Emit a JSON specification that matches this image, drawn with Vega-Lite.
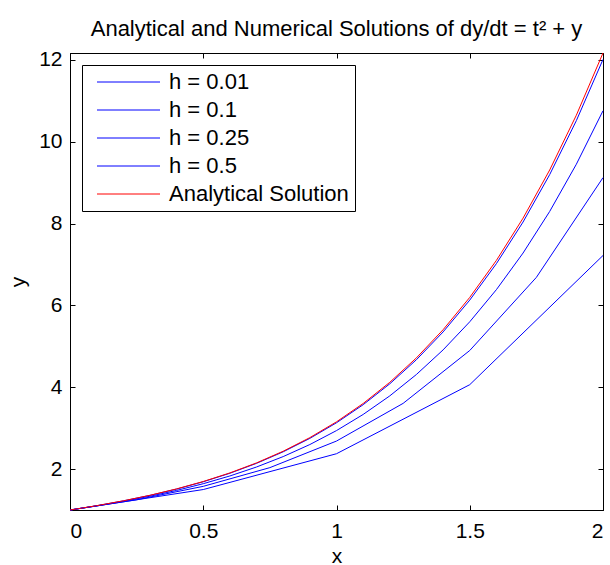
{
  "$schema": "https://vega.github.io/schema/vega-lite/v6.json",
  "width": 533,
  "height": 457,
  "autosize": {"type": "none"},
  "padding": {"left": 70, "top": 53, "right": 7, "bottom": 55},
  "background": "white",
  "title": {
    "text": "Analytical and Numerical Solutions of dy/dt = t² + y",
    "font": "Liberation Sans",
    "fontSize": 22,
    "fontWeight": "normal",
    "color": "black",
    "baseline": "alphabetic",
    "offset": -9
  },
  "data": {
    "values": [
      {"s": "h = 0.01", "t": 0, "y": 1},
      {"s": "h = 0.01", "t": 0.1, "y": 1.1049},
      {"s": "h = 0.01", "t": 0.2, "y": 1.2228},
      {"s": "h = 0.01", "t": 0.3, "y": 1.357},
      {"s": "h = 0.01", "t": 0.4, "y": 1.5114},
      {"s": "h = 0.01", "t": 0.5, "y": 1.6903},
      {"s": "h = 0.01", "t": 0.6, "y": 1.8982},
      {"s": "h = 0.01", "t": 0.7, "y": 2.1403},
      {"s": "h = 0.01", "t": 0.8, "y": 2.4222},
      {"s": "h = 0.01", "t": 0.9, "y": 2.7502},
      {"s": "h = 0.01", "t": 1.0, "y": 3.1313},
      {"s": "h = 0.01", "t": 1.1, "y": 3.573},
      {"s": "h = 0.01", "t": 1.2, "y": 4.0838},
      {"s": "h = 0.01", "t": 1.3, "y": 4.673},
      {"s": "h = 0.01", "t": 1.4, "y": 5.351},
      {"s": "h = 0.01", "t": 1.5, "y": 6.129},
      {"s": "h = 0.01", "t": 1.6, "y": 7.0198},
      {"s": "h = 0.01", "t": 1.7, "y": 8.037},
      {"s": "h = 0.01", "t": 1.8, "y": 9.1961},
      {"s": "h = 0.01", "t": 1.9, "y": 10.514},
      {"s": "h = 0.01", "t": 2.0, "y": 12.0094},
      {"s": "h = 0.1", "t": 0, "y": 1},
      {"s": "h = 0.1", "t": 0.1, "y": 1.1},
      {"s": "h = 0.1", "t": 0.2, "y": 1.211},
      {"s": "h = 0.1", "t": 0.3, "y": 1.3361},
      {"s": "h = 0.1", "t": 0.4, "y": 1.4787},
      {"s": "h = 0.1", "t": 0.5, "y": 1.6426},
      {"s": "h = 0.1", "t": 0.6, "y": 1.8318},
      {"s": "h = 0.1", "t": 0.7, "y": 2.051},
      {"s": "h = 0.1", "t": 0.8, "y": 2.3051},
      {"s": "h = 0.1", "t": 0.9, "y": 2.5996},
      {"s": "h = 0.1", "t": 1.0, "y": 2.9406},
      {"s": "h = 0.1", "t": 1.1, "y": 3.3347},
      {"s": "h = 0.1", "t": 1.2, "y": 3.7891},
      {"s": "h = 0.1", "t": 1.3, "y": 4.312},
      {"s": "h = 0.1", "t": 1.4, "y": 4.9122},
      {"s": "h = 0.1", "t": 1.5, "y": 5.5995},
      {"s": "h = 0.1", "t": 1.6, "y": 6.3844},
      {"s": "h = 0.1", "t": 1.7, "y": 7.2789},
      {"s": "h = 0.1", "t": 1.8, "y": 8.2957},
      {"s": "h = 0.1", "t": 1.9, "y": 9.4493},
      {"s": "h = 0.1", "t": 2.0, "y": 10.7553},
      {"s": "h = 0.25", "t": 0, "y": 1},
      {"s": "h = 0.25", "t": 0.25, "y": 1.25},
      {"s": "h = 0.25", "t": 0.5, "y": 1.5781},
      {"s": "h = 0.25", "t": 0.75, "y": 2.0352},
      {"s": "h = 0.25", "t": 1.0, "y": 2.6846},
      {"s": "h = 0.25", "t": 1.25, "y": 3.6057},
      {"s": "h = 0.25", "t": 1.5, "y": 4.8978},
      {"s": "h = 0.25", "t": 1.75, "y": 6.6847},
      {"s": "h = 0.25", "t": 2.0, "y": 9.1215},
      {"s": "h = 0.5", "t": 0, "y": 1},
      {"s": "h = 0.5", "t": 0.5, "y": 1.5},
      {"s": "h = 0.5", "t": 1.0, "y": 2.375},
      {"s": "h = 0.5", "t": 1.5, "y": 4.0625},
      {"s": "h = 0.5", "t": 2.0, "y": 7.2188},
      {"s": "Analytical Solution", "t": 0, "y": 1},
      {"s": "Analytical Solution", "t": 0.1, "y": 1.1055},
      {"s": "Analytical Solution", "t": 0.2, "y": 1.2242},
      {"s": "Analytical Solution", "t": 0.3, "y": 1.3596},
      {"s": "Analytical Solution", "t": 0.4, "y": 1.5155},
      {"s": "Analytical Solution", "t": 0.5, "y": 1.6962},
      {"s": "Analytical Solution", "t": 0.6, "y": 1.9064},
      {"s": "Analytical Solution", "t": 0.7, "y": 2.1513},
      {"s": "Analytical Solution", "t": 0.8, "y": 2.4366},
      {"s": "Analytical Solution", "t": 0.9, "y": 2.7688},
      {"s": "Analytical Solution", "t": 1.0, "y": 3.1548},
      {"s": "Analytical Solution", "t": 1.1, "y": 3.6025},
      {"s": "Analytical Solution", "t": 1.2, "y": 4.1204},
      {"s": "Analytical Solution", "t": 1.3, "y": 4.7179},
      {"s": "Analytical Solution", "t": 1.4, "y": 5.4056},
      {"s": "Analytical Solution", "t": 1.5, "y": 6.1951},
      {"s": "Analytical Solution", "t": 1.6, "y": 7.0991},
      {"s": "Analytical Solution", "t": 1.7, "y": 8.1318},
      {"s": "Analytical Solution", "t": 1.8, "y": 9.3089},
      {"s": "Analytical Solution", "t": 1.9, "y": 10.6477},
      {"s": "Analytical Solution", "t": 2.0, "y": 12.1672}
    ]
  },
  "layer": [
    {
      "mark": {"type": "line", "strokeWidth": 1},
      "encoding": {
        "x": {
          "field": "t", "type": "quantitative",
          "scale": {"domain": [0, 2], "nice": false, "zero": false},
          "axis": {"orient": "bottom", "title": "x", "values": [0, 0.5, 1, 1.5, 2], "format": "~g", "tickSize": -5, "labelPadding": 15, "titlePadding": 4}
        },
        "y": {
          "field": "y", "type": "quantitative",
          "scale": {"domain": [1, 12.1672], "nice": false, "zero": false},
          "axis": {"orient": "left", "title": "y", "values": [2, 4, 6, 8, 10, 12], "format": "d", "tickSize": -5, "labelPadding": 13, "titlePadding": 10}
        },
        "color": {
          "field": "s", "type": "nominal",
          "scale": {
            "domain": ["h = 0.01", "h = 0.1", "h = 0.25", "h = 0.5", "Analytical Solution"],
            "range": ["#0000ff", "#0000ff", "#0000ff", "#0000ff", "#ff0000"]
          },
          "legend": {
            "orient": "none", "legendX": 12, "legendY": 12, "title": null,
            "strokeColor": "black", "fillColor": "white", "padding": 6,
            "symbolType": "M-1.6,0H11", "symbolSize": 100, "symbolOffset": 6,
            "symbolStrokeWidth": 1, "labelOffset": 53, "labelFontSize": 22,
            "labelFont": "Liberation Sans", "labelColor": "black", "labelLimit": 400,
            "rowPadding": 6,
            "encode": {"symbols": {"update": {"stroke": {"scale": "color", "field": "value"}, "fill": {"value": "transparent"}, "opacity": {"value": 1}}}}
          }
        }
      }
    },
    {
      "mark": {"type": "line", "opacity": 0},
      "encoding": {
        "x": {
          "field": "t", "type": "quantitative",
          "scale": {"domain": [0, 2], "nice": false, "zero": false},
          "axis": {"orient": "top", "title": null, "labels": false, "values": [0, 0.5, 1, 1.5, 2], "tickSize": -5}
        },
        "y": {
          "field": "y", "type": "quantitative",
          "scale": {"domain": [1, 12.1672], "nice": false, "zero": false},
          "axis": {"orient": "right", "title": null, "labels": false, "values": [2, 4, 6, 8, 10, 12], "tickSize": -5}
        },
        "detail": {"field": "s"}
      }
    }
  ],
  "resolve": {"axis": {"x": "independent", "y": "independent"}},
  "config": {
    "view": {"stroke": "black", "strokeWidth": 1},
    "axis": {
      "grid": false, "domainColor": "black", "tickColor": "black", "domainWidth": 1,
      "labelFont": "Liberation Sans", "labelFontSize": 21, "labelColor": "black",
      "titleFont": "Liberation Sans", "titleFontSize": 21, "titleFontWeight": "normal", "titleColor": "black"
    }
  }
}
